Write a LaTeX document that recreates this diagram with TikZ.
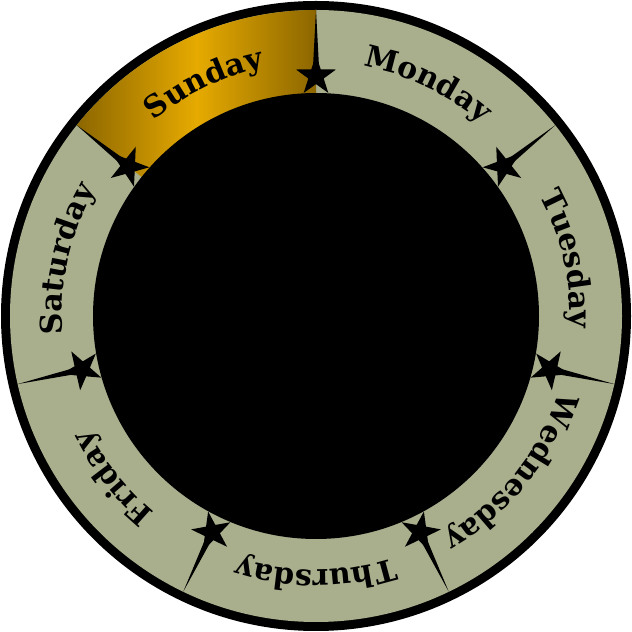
\documentclass[tikz,border=0pt]{standalone}
\usepackage{fontspec}
\newfontfamily\dayfont{DejaVu Serif}
\usetikzlibrary{shapes.geometric,decorations.text,calc}
\definecolor{ringsage}{HTML}{A9AE8C}
\definecolor{goldlight}{HTML}{E6AA00}
\definecolor{golddark}{HTML}{8C6600}
\newcommand\daystyle{\dayfont\bfseries\fontsize{30}{32}\selectfont}
\tikzset{
  rim/.style={fill=black},
  band/.style={fill=ringsage},
  hub/.style={circle, fill=black, inner sep=0pt, minimum size=446pt},
  starmark/.style={star, star points=5, star point ratio=2.6,
    minimum size=42pt, inner sep=0pt, fill=black},
  spike/.style={fill=black},
  daylabel/.style={decorate}
}

\begin{document}
\begin{tikzpicture}[x=1pt,y=1pt]
  \useasboundingbox (0,0) rectangle (632,632);
  \coordinate (c) at (316,316);

  \fill[rim] (c) circle[radius=315];
  \fill[band] (c) circle[radius=306];
  \shade[left color=golddark, right color=golddark, middle color=goldlight]
    (c) -- ($(c)+(90:306)$) arc[start angle=90, end angle=141.43, radius=306] -- cycle;

  \node[hub] (hub) at (c) {};

  \foreach \day [count=\i from 0] in {Monday,Tuesday,Wednesday,Thursday,Friday,Saturday,Sunday} {
    \pgfmathsetmacro\a{90-\i*360/7}
    \pgfmathsetmacro\b{\a-360/7}
    % label along the band
    \path[daylabel, decoration={text along path, text align=center,
        text/.expanded={|\noexpand\daystyle|\day}}]
      ($(c)+(\a:254)$) arc[start angle=\a, end angle=\b, radius=254];
    % star at the boundary
    \node[starmark, rotate=\a-90] (star\i) at ($(c)+(\a:240)$) {};
    \fill[spike] ($(star\i.center)+(\a+90:3.5)$) -- ($(c)+(\a:306)$)
      -- ($(star\i.center)+(\a-90:3.5)$) -- cycle;
  }
\end{tikzpicture}
\end{document}
